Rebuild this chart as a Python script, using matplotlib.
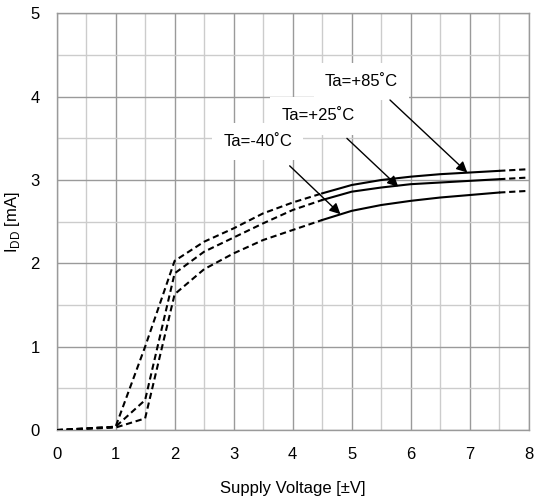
import numpy as np
import matplotlib
matplotlib.use("Agg")
import matplotlib.pyplot as plt

plt.rcParams['font.family'] = ['Liberation Sans', 'DejaVu Sans']
plt.rcParams['mathtext.fontset'] = 'custom'
plt.rcParams['mathtext.rm'] = 'Liberation Sans'

# Supply voltage points
volts = [0, 1, 1.5, 2, 2.5, 3, 3.5, 4, 4.5, 5, 5.5, 6, 6.5, 7, 7.5, 8]
# Supply current [mA] for each temperature
idd_85 = [0, 0.04, 1.00, 2.03, 2.26, 2.42, 2.60, 2.73, 2.84, 2.94, 3.00, 3.04, 3.07, 3.09, 3.11, 3.13]
idd_25 = [0, 0.04, 0.36, 1.88, 2.14, 2.31, 2.48, 2.64, 2.76, 2.86, 2.91, 2.95, 2.97, 2.99, 3.01, 3.03]
idd_m40 = [0, 0.03, 0.14, 1.63, 1.93, 2.12, 2.28, 2.40, 2.52, 2.63, 2.70, 2.75, 2.79, 2.82, 2.85, 2.87]

labels = ['Ta=+85˚C', 'Ta=+25˚C', 'Ta=-40˚C']
# label position, arrow tail, arrow head (data coords)
label_pos = [(5.17, 4.18), (4.43, 3.77), (3.41, 3.46)]
arrow_from = [(5.65, 3.96), (4.92, 3.50), (3.95, 3.17)]
arrow_to = [(6.96, 3.09), (5.79, 2.92), (4.81, 2.59)]

fig = plt.figure(figsize=(5.34, 5.03), dpi=100)
ax = fig.add_axes([0.106, 0.145, 0.884, 0.8285])

x = np.array(volts)
dash = (0, (3, 1.8))
for y in [idd_85, idd_25, idd_m40]:
    y = np.array(y)
    m1 = x <= 4.5
    m2 = (x >= 4.5) & (x <= 7.5)
    m3 = x >= 7.5
    ax.plot(x[m1], y[m1], color='black', lw=1.5, linestyle=dash, zorder=3)
    ax.plot(x[m2], y[m2], color='black', lw=1.5, zorder=3)
    ax.plot(x[m3], y[m3], color='black', lw=1.5, linestyle=dash, zorder=3)

for lab, p, a0, a1 in zip(labels, label_pos, arrow_from, arrow_to):
    ax.text(p[0], p[1], lab, ha='center', va='center', fontsize=12, zorder=4,
            bbox=dict(facecolor='white', edgecolor='none', pad=8))
    ax.annotate('', xy=a1, xytext=a0, zorder=5,
                arrowprops=dict(arrowstyle='-|>', color='black', lw=1.0,
                                mutation_scale=16, shrinkA=0, shrinkB=0))

ax.set_xlim(0, 8)
ax.set_ylim(0, 5)
ax.set_xticks(range(0, 9))
ax.set_yticks(range(0, 6))
ax.set_xticks(np.arange(0, 8.01, 0.5), minor=True)
ax.set_yticks(np.arange(0, 5.01, 0.5), minor=True)
ax.grid(which='minor', color='#cccccc', lw=1.0, zorder=0)
ax.grid(which='major', color='#9a9a9a', lw=1.0, zorder=1)
ax.tick_params(which='both', length=0, labelsize=12, pad=12)
for s in ax.spines.values():
    s.set_color('#9a9a9a')
    s.set_linewidth(1.0)

ax.set_xlabel('Supply Voltage [±V]', fontsize=12, labelpad=14)
ax.set_ylabel(r'I$_{\rm DD}$ [mA]', fontsize=12, labelpad=6)

fig.savefig('out.png', dpi=100)
